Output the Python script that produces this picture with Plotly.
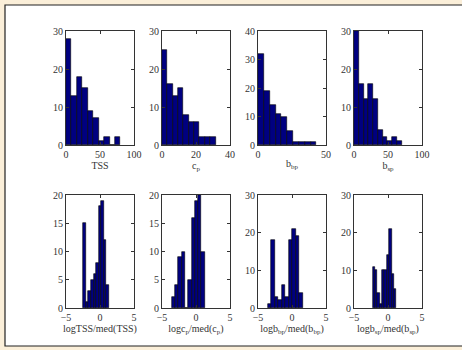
import plotly.graph_objects as go

# ---- data (histogram bins) ----
tss_edges0, tss_w = 0.0, 8.0
tss_counts = [28, 13, 18, 15, 9, 7, 1, 2, 0, 2]

cp_edges0, cp_w = 0.0, 3.15
cp_counts = [25, 16, 13, 15, 8, 6, 6, 2, 2, 2]

bbp_edges0, bbp_w = 0.0, 4.3
bbp_counts = [32, 19, 14, 11, 10, 5, 1, 1, 1, 1]

bsp_edges0, bsp_w = 0.0, 7.0
bsp_counts = [30, 16, 12, 16, 12, 4, 2, 1, 2, 1]

ltss_edges0, ltss_w = -2.45, 0.375
ltss_counts = [15, 1, 3, 5, 6, 8, 18, 19, 12, 4]

lcp_edges0, lcp_w = -3.54, 0.48
lcp_counts = [2, 4, 9, 10, 0, 5, 16, 19, 20, 10]

lbbp_edges0, lbbp_w = -3.55, 0.515
lbbp_counts = [1, 18, 3, 2, 6, 3, 18, 21, 19, 4]

lbsp_edges0, lbsp_w = -2.28, 0.35
lbsp_counts = [11, 10, 4, 1, 10, 10, 14, 21, 9, 5]

x_labels = ["TSS", "c<sub>p</sub>", "b<sub>bp</sub>", "b<sub>sp</sub>",
            "logTSS/med(TSS)", "logc<sub>p</sub>/med(c<sub>p</sub>)",
            "logb<sub>bp</sub>/med(b<sub>bp</sub>)", "logb<sub>sp</sub>/med(b<sub>sp</sub>)"]
x_ranges = [[0, 100], [0, 40], [0, 50], [0, 100], [-5, 5], [-5, 5], [-5, 5], [-5, 5]]
x_ticks = [[0, 50, 100], [0, 20, 40], [0, 50], [0, 50, 100],
           [-5, 0, 5], [-5, 0, 5], [-5, 0, 5], [-5, 0, 5]]
y_ranges = [[0, 30], [0, 30], [0, 40], [0, 30], [0, 20], [0, 20], [0, 30], [0, 30]]
y_ticks = [[0, 10, 20, 30], [0, 10, 20, 30], [0, 10, 20, 30, 40], [0, 10, 20, 30],
           [0, 5, 10, 15, 20], [0, 5, 10, 15, 20], [0, 10, 20, 30], [0, 10, 20, 30]]

hists = [(tss_edges0, tss_w, tss_counts), (cp_edges0, cp_w, cp_counts),
         (bbp_edges0, bbp_w, bbp_counts), (bsp_edges0, bsp_w, bsp_counts),
         (ltss_edges0, ltss_w, ltss_counts), (lcp_edges0, lcp_w, lcp_counts),
         (lbbp_edges0, lbbp_w, lbbp_counts), (lbsp_edges0, lbsp_w, lbsp_counts)]

W, H = 462, 350
col_left = [66, 162, 258, 354]
panel_w = 68
row_top = [31, 195]
panel_h = [114, 113]

font_fam = "Liberation Serif"
fs = 10
fig = go.Figure()
layout = {}
for i, (e0, w, counts) in enumerate(hists):
    r, c = divmod(i, 4)
    n = i + 1
    xs = [e0 + w * (k + 0.5) for k in range(len(counts))]
    fig.add_trace(go.Bar(x=xs, y=counts, width=[w] * len(counts),
                         marker=dict(color="#000080", line=dict(color="#000000", width=0.6)),
                         xaxis=f"x{n}", yaxis=f"y{n}", showlegend=False, hoverinfo="skip"))
    x0 = col_left[c] / W
    x1 = (col_left[c] + panel_w) / W
    y1 = 1 - row_top[r] / H
    y0 = 1 - (row_top[r] + panel_h[r]) / H
    ax = dict(domain=[x0, x1], range=x_ranges[i], tickvals=x_ticks[i],
              ticks="inside", ticklen=3, tickcolor="#333", showline=True,
              linecolor="#333", linewidth=1, mirror="ticks", showgrid=False,
              zeroline=False, anchor=f"y{n}", automargin=False,
              tickfont=dict(family=font_fam, size=fs, color="#333"),
              title=dict(text=x_labels[i], standoff=0,
                         font=dict(family=font_fam, size=fs, color="#333")))
    ay = dict(domain=[y0, y1], range=y_ranges[i], tickvals=y_ticks[i],
              ticks="inside", ticklen=3, tickcolor="#333", showline=True,
              linecolor="#333", linewidth=1, mirror="ticks", showgrid=False,
              zeroline=False, anchor=f"x{n}", automargin=False,
              tickfont=dict(family=font_fam, size=fs, color="#333"))
    layout[f"xaxis{n}"] = ax
    layout[f"yaxis{n}"] = ay

fig.update_layout(**layout)
fig.update_layout(width=W, height=H, margin=dict(l=0, r=0, t=0, b=0),
                  font=dict(family=font_fam),
                  paper_bgcolor="#FBEFD9", plot_bgcolor="white", bargap=0,
                  shapes=[dict(type="rect", xref="paper", yref="paper",
                               x0=5 / W, x1=1.05, y0=1 - 346 / H, y1=1 - 5 / H,
                               fillcolor="white", line=dict(color="#222", width=1.2),
                               layer="below")])
fig.write_html("out.html", config={"displayModeBar": False},
               post_script="document.body.style.margin='0';document.body.style.overflow='hidden';")
